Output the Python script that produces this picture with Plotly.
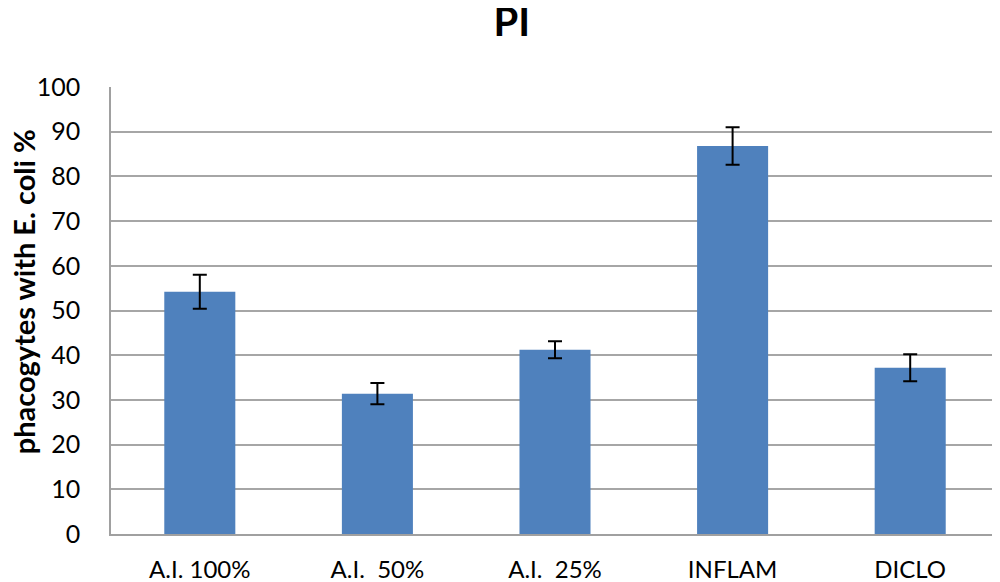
import plotly.graph_objects as go

groups = ["A.I. 100%", "A.I.  50%", "A.I.  25%", "INFLAM", "DICLO"]
means = [54.2, 31.4, 41.2, 86.8, 37.2]
errs = [3.8, 2.4, 1.9, 4.2, 3.0]

FONT = "Lato, 'Open Sans', sans-serif"

# page body has an 8px margin, so the figure is shrunk by that much
fig = go.Figure()
fig.add_trace(
    go.Bar(
        x=groups,
        y=means,
        marker=dict(color="#4F81BD", line=dict(width=0)),
        error_y=dict(type="data", array=errs, color="black", thickness=2, width=7),
        showlegend=False,
    )
)

fig.update_layout(
    width=992,
    height=574,
    paper_bgcolor="white",
    plot_bgcolor="white",
    bargap=0.6,
    margin=dict(l=103, r=1, t=79, b=48, autoexpand=False),
    title=dict(text="<b>PI</b>", x=0.508, xanchor="center", y=0.975, yanchor="middle",
               font=dict(family=FONT, size=40, color="black")),
    font=dict(family=FONT, color="black"),
)
fig.update_xaxes(
    showline=True, linecolor="#A0A0A0", linewidth=1.5,
    tickfont=dict(size=24, color="black"), ticks="", ticklabelstandoff=13,
)
fig.update_yaxes(
    range=[0, 100], dtick=10, showline=True, linecolor="#A0A0A0", linewidth=1.5,
    showgrid=True, gridcolor="#A6A6A6", gridwidth=1.5, zeroline=False,
    tickfont=dict(size=25, color="black"), ticks="", ticklabelstandoff=24,
)
fig.add_annotation(
    text="<b>phacogytes with E. coli %</b>", textangle=-90,
    xref="paper", yref="paper", x=-0.099, y=0.541, xanchor="center", yanchor="middle",
    showarrow=False, font=dict(family=FONT, size=29, color="black"),
)

fig.write_html("out.html")
